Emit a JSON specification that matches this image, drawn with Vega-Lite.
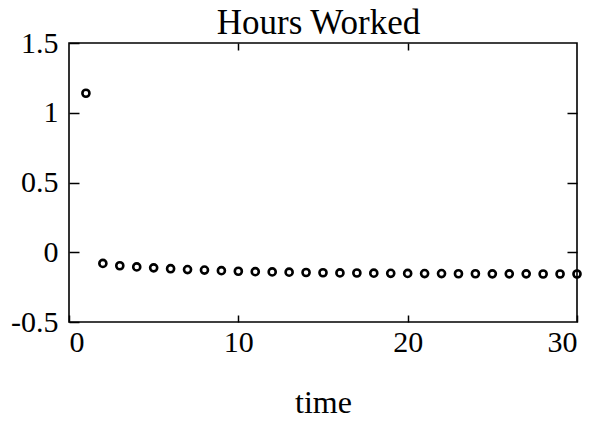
{
  "$schema": "https://vega.github.io/schema/vega-lite/v6.json",
  "width": 508,
  "height": 279,
  "autosize": {"type": "none"},
  "padding": {"left": 69, "top": 43, "right": 32, "bottom": 102},
  "background": "white",
  "config": {
    "view": {"stroke": "black", "strokeWidth": 1.6},
    "axis": {"grid": false, "domain": false, "labelFont": "Liberation Serif", "labelFontSize": 30, "labelColor": "black", "tickColor": "black", "tickWidth": 1.5, "titleFont": "Liberation Serif", "titleColor": "black", "titleFontWeight": "normal"}
  },
  "data": {"values": [
    {"time": 1, "hours": 1.14},
    {"time": 2, "hours": -0.08},
    {"time": 3, "hours": -0.097},
    {"time": 4, "hours": -0.105},
    {"time": 5, "hours": -0.112},
    {"time": 6, "hours": -0.118},
    {"time": 7, "hours": -0.124},
    {"time": 8, "hours": -0.128},
    {"time": 9, "hours": -0.132},
    {"time": 10, "hours": -0.136},
    {"time": 11, "hours": -0.139},
    {"time": 12, "hours": -0.141},
    {"time": 13, "hours": -0.143},
    {"time": 14, "hours": -0.145},
    {"time": 15, "hours": -0.147},
    {"time": 16, "hours": -0.148},
    {"time": 17, "hours": -0.149},
    {"time": 18, "hours": -0.15},
    {"time": 19, "hours": -0.151},
    {"time": 20, "hours": -0.152},
    {"time": 21, "hours": -0.153},
    {"time": 22, "hours": -0.153},
    {"time": 23, "hours": -0.154},
    {"time": 24, "hours": -0.154},
    {"time": 25, "hours": -0.155},
    {"time": 26, "hours": -0.155},
    {"time": 27, "hours": -0.155},
    {"time": 28, "hours": -0.156},
    {"time": 29, "hours": -0.156},
    {"time": 30, "hours": -0.156}
  ]},
  "layer": [
    {
      "mark": {"type": "point", "shape": "circle", "filled": false, "color": "black", "strokeWidth": 2.6, "size": 50, "opacity": 1},
      "encoding": {
        "x": {"field": "time", "type": "quantitative", "scale": {"domain": [0, 30], "nice": false, "zero": false},
              "axis": {"orient": "bottom", "values": [0, 10, 20, 30], "tickSize": -7, "labelPadding": 12, "labelBaseline": "top", "title": "time", "titleFontSize": 32, "titleBaseline": "alphabetic", "titleY": 90, "titleX": 254, "titleAnchor": "middle"}},
        "y": {"field": "hours", "type": "quantitative", "scale": {"domain": [-0.5, 1.5], "nice": false, "zero": false},
              "axis": {"orient": "left", "values": [-0.5, 0, 0.5, 1, 1.5], "tickSize": -10, "labelPadding": 21, "labelBaseline": "middle", "title": null, "labelExpr": "'' + datum.value"}}
      }
    },
    {
      "mark": {"type": "point", "shape": "circle", "filled": false, "color": "black", "opacity": 0},
      "encoding": {
        "x": {"field": "time", "type": "quantitative", "axis": {"orient": "top", "values": [10, 20], "tickSize": -7, "labels": false, "title": "Hours Worked", "titleFontSize": 35, "titleBaseline": "alphabetic", "titleY": -10, "titleX": 249, "titleAnchor": "middle"}},
        "y": {"field": "hours", "type": "quantitative", "axis": {"orient": "right", "values": [0, 0.5, 1], "tickSize": -10, "labels": false, "title": null}}
      }
    }
  ],
  "resolve": {"axis": {"x": "independent", "y": "independent"}}
}
